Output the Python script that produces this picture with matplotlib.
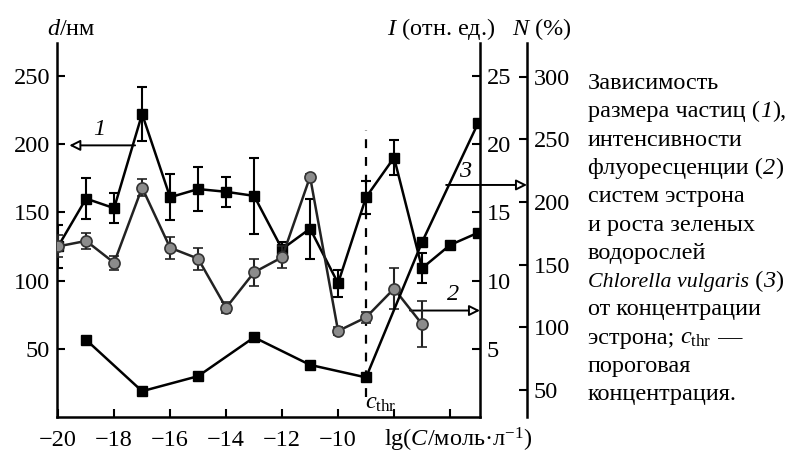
import numpy as np
import matplotlib
matplotlib.use('Agg')
import matplotlib.pyplot as plt

plt.rcParams['font.family'] = ['Liberation Serif', 'DejaVu Serif']
plt.rcParams['mathtext.fontset'] = 'custom'
plt.rcParams['mathtext.rm'] = 'Liberation Serif'
plt.rcParams['mathtext.it'] = 'Liberation Serif:italic'
plt.rcParams['axes.unicode_minus'] = True

# ---- data ----
x_size = [-20, -19, -18, -17, -16, -15, -14, -13, -12, -11, -10, -9, -8, -7, -6, -5]
d_size = [125, 160, 153, 222, 161, 167, 165, 162, 123, 138, 98, 161, 190, 109, 126, 135]
d_err = [16, 15, 11, 20, 17, 16, 11, 28, 5, 22, 10, 12, 13, 11, 0, 0]

x_fl = [-20, -19, -18, -17, -16, -15, -14, -13, -12, -11, -10, -9, -8, -7]
i_fl = [12.5, 12.9, 11.3, 16.8, 12.4, 11.6, 8.0, 10.6, 11.7, 17.6, 6.3, 7.3, 9.4, 6.8]
i_err = [0.8, 0.6, 0.5, 0.6, 0.8, 0.8, 0.4, 1.0, 0.8, 0.2, 0.3, 0.4, 1.5, 1.7]

x_gr = [-19, -17, -15, -13, -11, -9, -7, -5]
n_gr = [90, 49, 61, 92, 70, 60, 168, 263]

x_ticks = [-20, -18, -16, -14, -12, -10, -8, -6]
x_labels = ['\u221220', '\u221218', '\u221216', '\u221214', '\u221212', '\u221210', '', '']
d_ticks = [50, 100, 150, 200, 250]
i_ticks = [5, 10, 15, 20, 25]
n_ticks = [50, 100, 150, 200, 250, 300]
c_thr = -9

# caption lines as (text, italic, size scale) segments
caption = [
    [('Зависимость', False, 1.0)],
    [('размера частиц (', False, 1.0), ('1', True, 1.0), ('),', False, 1.0)],
    [('интенсивности', False, 1.0)],
    [('флуоресценции (', False, 1.0), ('2', True, 1.0), (')', False, 1.0)],
    [('систем эстрона', False, 1.0)],
    [('и роста зеленых', False, 1.0)],
    [('водорослей', False, 1.0)],
    [('Chlorella vulgaris', True, 0.9), (' (', False, 1.0), ('3', True, 1.0), (')', False, 1.0)],
    [('от концентрации', False, 1.0)],
    [('эстрона; ', False, 1.0), (r'$c_{\rm thr}$', False, 1.0), (' —', False, 1.0)],
    [('пороговая', False, 1.0)],
    [('концентрация.', False, 1.0)],
]

FS = 17.5
W, H = 795, 455
fig = plt.figure(figsize=(W / 100, H / 100), dpi=100)
L, R, B, T = 57, 480, 417, 43
ax = fig.add_axes([L / W, 1 - B / H, (R - L) / W, (B - T) / H])
axI = ax.twinx()
axN = ax.twinx()

ax.set_xlim(-20.04, -4.93)
ax.set_ylim(0, 274)
axI.set_ylim(0, 27.4)
axN.set_ylim(28.4, 327)

for a in (ax, axI, axN):
    a.spines['top'].set_visible(False)
    a.patch.set_visible(False)
ax.spines['right'].set_visible(False)
for a in (axI, axN):
    a.spines['left'].set_visible(False)
    a.spines['bottom'].set_visible(False)
axN.spines['right'].set_position(('axes', (527 - L) / (R - L)))
for a in (ax, axI, axN):
    for s in a.spines.values():
        s.set_linewidth(1.8)

ax.set_xticks(x_ticks)
ax.set_xticklabels(x_labels)
ax.set_yticks(d_ticks)
axI.set_yticks(i_ticks)
axN.set_yticks(n_ticks)
ax.tick_params(axis='both', direction='in', length=6, width=1.5, labelsize=FS)
ax.tick_params(axis='x', pad=9)
ax.tick_params(axis='y', pad=5)
for a in (axI, axN):
    a.tick_params(axis='y', direction='in', length=6, width=1.5, labelsize=FS, pad=5)

# series 1: particle size
ax.errorbar(x_size, d_size, yerr=d_err, fmt='-s', color='k', ms=7, lw=1.8,
            elinewidth=1.5, capsize=3.5, capthick=1.5, zorder=3)
# series 2: fluorescence intensity
axI.errorbar(x_fl, i_fl, yerr=i_err, fmt='-o', color='#222222', mfc='#8c8c8c', mec='#333333',
             mew=1.2, ms=8, lw=1.8, elinewidth=1.5, capsize=3.5, capthick=1.5, zorder=3)
# series 3: growth
axN.plot(x_gr, n_gr, '-s', color='k', ms=7, lw=1.8, zorder=3)

# threshold line
ax.plot([c_thr, c_thr], [15, 210], color='k', ls=(0, (4, 4)), lw=1.6)
ax.text(c_thr - 0.05, 10, r'$c_{\rm thr}$', fontsize=FS, ha='left', va='center')

ap = dict(arrowstyle='-|>', fc='white', ec='black', lw=1.4, mutation_scale=16,
          shrinkA=0, shrinkB=0)
ax.annotate('', xy=(-19.6, 199), xytext=(-17.25, 199), arrowprops=ap)
ax.text(-18.55, 203, '1', fontsize=FS, style='italic', ha='center', va='bottom')
ax.annotate('', xy=(1.0, 78), xycoords=('axes fraction', 'data'),
            xytext=(-7.43, 78), textcoords='data', arrowprops=ap, annotation_clip=False)
ax.text(-5.9, 82, '2', fontsize=FS, style='italic', ha='center', va='bottom')
ax.annotate('', xy=((527 - L) / (R - L), 170), xycoords=('axes fraction', 'data'),
            xytext=(-6.14, 170), textcoords='data', arrowprops=ap, annotation_clip=False)
ax.text(-5.45, 172, '3', fontsize=FS, style='italic', ha='center', va='bottom')

# axis titles
fig.text(47 / W, 1 - 35 / H, r'$d$/нм', fontsize=FS, ha='left', va='baseline')
fig.text(387 / W, 1 - 35 / H, r'$I$ (отн. ед.)', fontsize=FS, ha='left', va='baseline')
fig.text(512 / W, 1 - 35 / H, r'$N$ (%)', fontsize=FS, ha='left', va='baseline')
fig.text(384 / W, 1 - 447 / H, r'lg($C$/моль·л$^{-1}$)', fontsize=FS, ha='left', va='baseline')

# caption
renderer = fig.canvas.get_renderer()
for i, segs in enumerate(caption):
    xpos = 588 / W
    ypos = 1 - (89 + 28.3 * i) / H
    for txt, ital, sc in segs:
        t = fig.text(xpos, ypos, txt, fontsize=FS * sc, ha='left', va='baseline',
                     style='italic' if ital else 'normal')
        bb = t.get_window_extent(renderer)
        xpos = bb.x1 / W

fig.savefig('out.png', dpi=100)
